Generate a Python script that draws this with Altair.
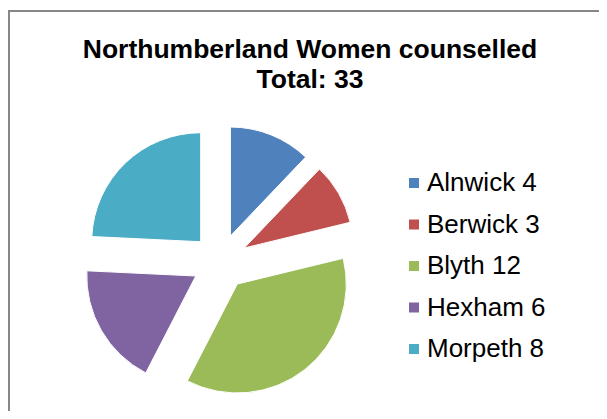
import altair as alt
import pandas as pd

regions = ["Alnwick", "Berwick", "Blyth", "Hexham", "Morpeth"]
counts = [4, 3, 12, 6, 8]
colors = ["#4F81BD", "#C0504D", "#9BBB59", "#8064A2", "#4BACC6"]
title_lines = ["Northumberland Women counselled", "Total: 33"]

labels = [f"{r} {c}" for r, c in zip(regions, counts)]
df = pd.DataFrame({"region": regions, "count": counts, "label": labels,
                   "order": list(range(len(regions)))})

FONT = "Liberation Sans, Arial, sans-serif"
W, H = 591, 403
CX, CY = 212, 254
R = 109
EXPLODE = 28

pie = (
    alt.Chart(df)
    .transform_window(cum="sum(count)", sort=[alt.SortField("order")], frame=[None, 0])
    .transform_joinaggregate(total="sum(count)")
    .transform_calculate(a0="2*PI*(datum.cum - datum.count)/datum.total")
    .transform_calculate(a1="2*PI*datum.cum/datum.total")
    .transform_calculate(mid="(datum.a0 + datum.a1)/2")
    .transform_calculate(px=f"{CX} + {EXPLODE}*sin(datum.mid)")
    .transform_calculate(py=f"{CY} - {EXPLODE}*cos(datum.mid)")
    .mark_arc(radius=R, stroke="white", strokeWidth=1)
    .encode(
        theta=alt.Theta("a0:Q", scale=None),
        theta2="a1:Q",
        x=alt.X("px:Q", scale=None, axis=None),
        y=alt.Y("py:Q", scale=None, axis=None),
        color=alt.Color(
            "label:N",
            scale=alt.Scale(domain=labels, range=colors),
            sort=labels,
            legend=alt.Legend(
                title=None, orient="none", legendX=393, legendY=162,
                symbolType="square", symbolSize=100, symbolStrokeWidth=0,
                labelFontSize=26, labelFont=FONT, labelColor="black",
                rowPadding=15.5, labelOffset=0, padding=0,
            ),
        ),
        order=alt.Order("order:Q"),
    )
)

border = (
    alt.Chart(pd.DataFrame({"k": [0]}))
    .mark_rect(fill="transparent", stroke="#878787", strokeWidth=2)
    .encode(x=alt.value(1), x2=alt.value(800), y=alt.value(3), y2=alt.value(700))
)

title = (
    alt.Chart(pd.DataFrame({"k": [0]}))
    .mark_text(
        text=title_lines, font=FONT, fontSize=26.5, fontWeight="bold",
        color="black", align="center", baseline="alphabetic", lineHeight=30,
    )
    .encode(x=alt.value(302), y=alt.value(50))
)

chart = (
    alt.layer(border, title, pie)
    .properties(
        width=W, height=H,
        padding=0,
        autosize=alt.AutoSizeParams(type="none"),
        background="white",
    )
    .configure_view(stroke=None)
)

chart.save("out.html", embed_options={"renderer": "svg", "actions": False})
